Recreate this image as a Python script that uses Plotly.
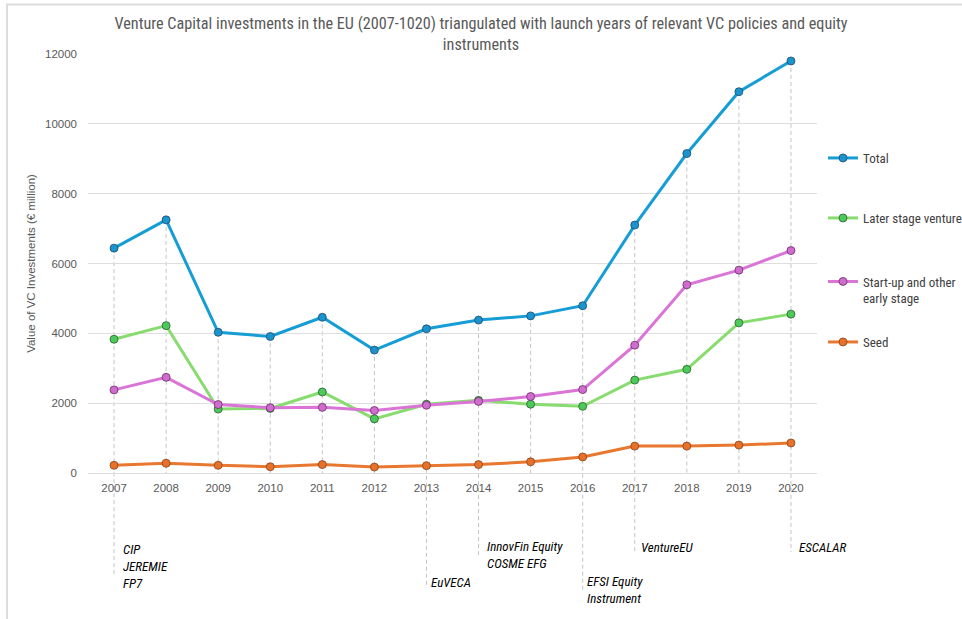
import plotly.graph_objects as go

# ---------------- data ----------------
years = [2007, 2008, 2009, 2010, 2011, 2012, 2013,
         2014, 2015, 2016, 2017, 2018, 2019, 2020]
total = [6440, 7250, 4030, 3910, 4460, 3520, 4130, 4380, 4500, 4790, 7100, 9150, 10920, 11800]
later_stage = [3830, 4220, 1830, 1850, 2320, 1550, 1970, 2080, 1970, 1910, 2660, 2970, 4300, 4550]
startup_early = [2380, 2740, 1960, 1870, 1880, 1790, 1940, 2050, 2190, 2390, 3660, 5390, 5810, 6370]
seed = [220, 280, 220, 180, 240, 170, 210, 240, 320, 460, 770, 770, 800, 860]

series_names = ["Total", "Later stage venture", "Start-up and other<br>early stage", "Seed"]

# policy launch labels per year
policy_years = [2007, 2013, 2014, 2016, 2017, 2020]
policy_labels = ["CIP<br>JEREMIE<br>FP7", "EuVECA", "InnovFin Equity<br>COSME EFG",
                 "EFSI Equity<br>Instrument", "VentureEU", "ESCALAR"]

y_ticks = [0, 2000, 4000, 6000, 8000, 10000, 12000]
Y_MAX = 12000

title_text = ("Venture Capital investments in the EU (2007-1020) triangulated with launch years "
              "of relevant VC policies and equity<br>instruments")
y_title = "Value of VC Investments (€ million)"

# ---------------- layout geometry (pixels) ----------------
W, H = 962, 619
L, R, T, B = 88, 817, 54, 473
PW, PH = R - L, B - T


def px(xp):
    return (xp - L) / PW


def py(yp):
    return (B - yp) / PH


NARROW = "Liberation Sans Narrow, Arial Narrow, Roboto Condensed, sans-serif"
REG = "Liberation Sans, Arial, sans-serif"

line_colors = ["#179dd6", "#88dc6f", "#da74d6", "#e8772f"]
marker_colors = ["#1b93cc", "#4cc95b", "#d06ccd", "#e6712b"]
marker_lines = ["#1f4d6e", "#2f5f2f", "#6a2f68", "#8a4318"]
values = [total, later_stage, startup_early, seed]

fig = go.Figure()
legend_ids = ["legend", "legend2", "legend3", "legend4"]
for name, vals, lc, mc, ml, lid in zip(series_names, values, line_colors, marker_colors,
                                        marker_lines, legend_ids):
    fig.add_trace(go.Scatter(
        x=years, y=vals, name=name, mode="lines+markers",
        line=dict(color=lc, width=3),
        marker=dict(size=8, color=mc, line=dict(color=ml, width=0.8)),
        legend=lid,
    ))

# drop lines from Total down to the axis (and below for policy years)
drop_end = {2007: 576, 2013: 588, 2014: 558, 2016: 590, 2017: 552, 2020: 552}
shapes = []
for yr, v in zip(years, total):
    y_bottom = py(drop_end[yr]) if yr in drop_end else 0
    shapes.append(dict(type="line", xref="x", yref="paper", x0=yr, x1=yr,
                       y0=v / Y_MAX, y1=y_bottom, layer="below",
                       line=dict(color="#c4c4c4", width=1, dash="4px,3px")))

# chart frame (left and top edges)
shapes.append(dict(type="line", xref="paper", yref="paper", x0=px(7), x1=px(7),
                   y0=py(4), y1=py(640), line=dict(color="#dcdcdc", width=2)))
shapes.append(dict(type="line", xref="paper", yref="paper", x0=px(6), x1=px(980),
                   y0=py(4.5), y1=py(4.5), line=dict(color="#dcdcdc", width=2)))

# policy annotations
label_pos = {2007: (9, 540), 2013: (5, 573), 2014: (8, 537),
             2016: (4, 572), 2017: (6, 538), 2020: (8, 538)}
annotations = []
for yr, txt in zip(policy_years, policy_labels):
    dx, ytop = label_pos[yr]
    annotations.append(dict(x=yr, xref="x", y=py(ytop), yref="paper", text=txt,
                            showarrow=False, xanchor="left", yanchor="top", align="left",
                            xshift=dx - 2,
                            font=dict(family=NARROW, size=13, color="#000000", style="italic")))

# legends positioned individually
legend_y = [158, 218, 290, 342]
legends = {}
for lid, yc, va in zip(legend_ids, legend_y, ["middle", "middle", "top", "middle"]):
    legends[lid] = dict(x=px(823), xanchor="left", y=py(yc), yanchor="middle",
                        bgcolor="rgba(0,0,0,0)", borderwidth=0, valign=va,
                        font=dict(family=NARROW, size=13, color="#404040"),
                        itemwidth=30, tracegroupgap=0)

fig.update_layout(
    width=W, height=H,
    margin=dict(l=L, r=W - R, t=T, b=H - B, autoexpand=False),
    paper_bgcolor="white", plot_bgcolor="white",
    title=dict(text=title_text, x=0.5, xanchor="center", xref="container",
               y=1 - 29 / H, yanchor="middle", yref="container",
               font=dict(family=NARROW, size=16.2, color="#595959")),
    xaxis=dict(range=[2006.5, 2020.5], tickmode="array", tickvals=years,
               tickformat="d", showgrid=False, zeroline=False,
               showline=False, ticks="", tickfont=dict(family=REG, size=11.5, color="#595959"),
               ticklabelstandoff=6, automargin=False),
    yaxis=dict(range=[0, Y_MAX], tickvals=y_ticks, tickformat="d", showgrid=True,
               gridcolor="#dedede",
               gridwidth=1, zeroline=True, zerolinecolor="#dedede", zerolinewidth=1,
               showline=False, ticks="", ticklabelstandoff=10,
               tickfont=dict(family=REG, size=11.5, color="#595959"),
               title=dict(text=y_title, font=dict(family=REG, size=11.5, color="#595959"),
                          standoff=6),
               automargin=False),
    shapes=shapes,
    annotations=annotations,
    showlegend=True,
    **legends,
)

fig.write_html("out.html")
